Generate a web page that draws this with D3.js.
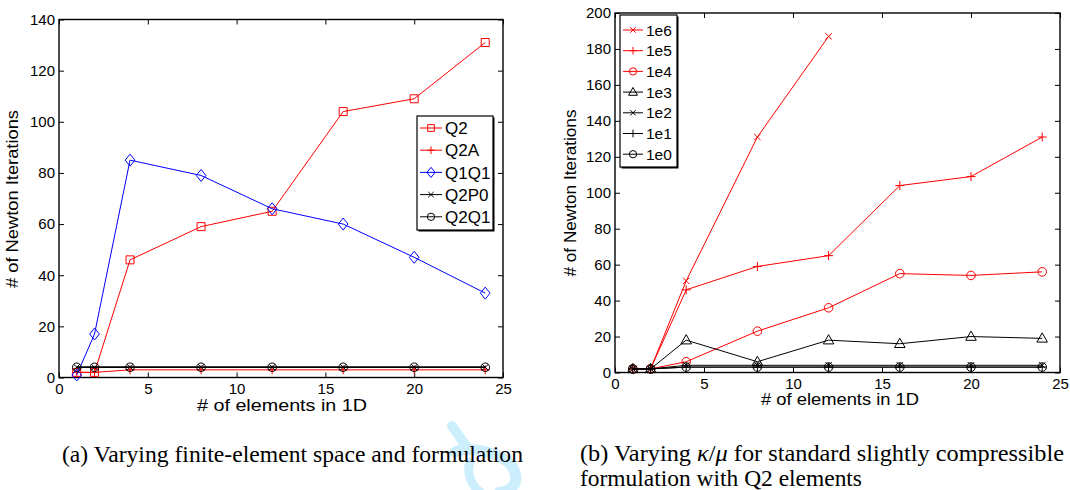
<!DOCTYPE html>
<html>
<head>
<meta charset="utf-8">
<script src="https://cdn.jsdelivr.net/npm/d3@7"></script>
<style>
  body { margin: 0; background: #fff; }
  text { font-family: "Liberation Sans", Arial, sans-serif; }
  .cap { font-family: "Liberation Serif", "Times New Roman", serif; font-size: 22.5px; }
</style>
</head>
<body>
<svg id="fig" width="1070" height="490"></svg>
<script>
// x values (elements in 1D)
const elems = [1, 2, 4, 8, 12, 16, 20, 24];

// panel (a): finite-element space / formulation
const q2   = [2, 2, 46, 59, 65, 104, 109, 131];
const q2a  = [2, 2, 3, 3, 3, 3, 3, 3];
const q1q1 = [1, 17, 85, 79, 66, 60, 47, 33];
const q2p0 = [4, 4, 4, 4, 4, 4, 4, 4];
const q2q1 = [4, 4, 4, 4, 4, 4, 4, 4];

// panel (b): kappa/mu
const k1e6 = [2, 2, 51, 131, 187];
const k1e5 = [2, 2, 46, 59, 65, 104, 109, 131];
const k1e4 = [2, 2, 6, 23, 36, 55, 54, 56];
const k1e3 = [2, 2, 18, 6, 18, 16, 20, 19];
const k1e2 = [2, 2, 4, 4, 4, 4, 4, 4];
const k1e1 = [2, 2, 3, 3, 3, 3, 3, 3];
const k1e0 = [2, 2, 3, 3, 3, 3, 3, 3];

const xTicks = [0, 5, 10, 15, 20, 25];
const yTicksA = [0, 20, 40, 60, 80, 100, 120, 140];
const yTicksB = [0, 20, 40, 60, 80, 100, 120, 140, 160, 180, 200];

const RED = "#ff0000", BLUE = "#0000ff", BLACK = "#000";

const seriesA = [
  { name: "Q2",   vals: q2,   color: RED,   mark: "square" },
  { name: "Q2A",  vals: q2a,  color: RED,   mark: "plus" },
  { name: "Q1Q1", vals: q1q1, color: BLUE,  mark: "diamond" },
  { name: "Q2P0", vals: q2p0, color: BLACK, mark: "x", width: 1.6 },
  { name: "Q2Q1", vals: q2q1, color: BLACK, mark: "circle", width: 1.6 }
];
const seriesB = [
  { name: "1e6", vals: k1e6, color: RED,   mark: "x" },
  { name: "1e5", vals: k1e5, color: RED,   mark: "plus" },
  { name: "1e4", vals: k1e4, color: RED,   mark: "circle" },
  { name: "1e3", vals: k1e3, color: BLACK, mark: "triangle" },
  { name: "1e2", vals: k1e2, color: BLACK, mark: "x" },
  { name: "1e1", vals: k1e1, color: BLACK, mark: "plus" },
  { name: "1e0", vals: k1e0, color: BLACK, mark: "circle" }
];

// marker outlines, matlab-ish
function markPath(type, s) {
  const p = d3.path();
  if (type === "square") { p.rect(-s, -s, 2 * s, 2 * s); }
  else if (type === "diamond") {
    p.moveTo(0, -s * 1.3); p.lineTo(s * 1.05, 0); p.lineTo(0, s * 1.3); p.lineTo(-s * 1.05, 0); p.closePath();
  }
  else if (type === "circle") { p.moveTo(s, 0); p.arc(0, 0, s, 0, 2 * Math.PI); }
  else if (type === "plus") { p.moveTo(-s, 0); p.lineTo(s, 0); p.moveTo(0, -s); p.lineTo(0, s); }
  else if (type === "x") { p.moveTo(-s * .7, -s * .7); p.lineTo(s * .7, s * .7); p.moveTo(-s * .7, s * .7); p.lineTo(s * .7, -s * .7); }
  else if (type === "triangle") {
    p.moveTo(0, -s * 1.1); p.lineTo(s * 1.05, s * 0.75); p.lineTo(-s * 1.05, s * 0.75); p.closePath();
  }
  return p.toString();
}
const markSize = { square: 4, diamond: 4.6, circle: 4.3, plus: 4.5, x: 4.5, triangle: 5 };

const svg = d3.select("#fig");
svg.append("rect").attr("width", 1070).attr("height", 490).attr("fill", "#fff");

// faint blue watermark behind the captions
const wm = svg.append("g").attr("fill", "none").attr("stroke", "#cdeefc").attr("stroke-linecap", "round");
wm.append("path").attr("d", "M452,426 L466,446").attr("stroke-width", 10);
wm.append("path").attr("d", "M455,452 C470,446 505,452 514,470 C520,484 510,492 500,492").attr("stroke-width", 11);
wm.append("path").attr("d", "M470,462 C466,474 472,486 480,492").attr("stroke-width", 9);

function panel(cfg) {
  const x = d3.scaleLinear().domain([0, 25]).range([cfg.left, cfg.right]);
  const y = d3.scaleLinear().domain([0, cfg.ymax]).range([cfg.bottom, cfg.top]);
  const g = svg.append("g");

  const styleAxis = sel => {
    sel.select(".domain").remove();
    sel.selectAll("line").attr("stroke", "#000").attr("stroke-width", 1);
    sel.selectAll("text").attr("font-size", 15).attr("fill", "#000")
      .attr("font-family", "'Liberation Sans', Arial, sans-serif");
  };

  g.append("g").attr("transform", `translate(0,${cfg.bottom})`)
    .call(d3.axisBottom(x).tickValues(xTicks).tickSize(-5).tickPadding(6)).call(styleAxis);
  g.append("g").attr("transform", `translate(0,${cfg.top})`)
    .call(d3.axisTop(x).tickValues(xTicks).tickSize(-5).tickFormat("")).call(styleAxis);
  g.append("g").attr("transform", `translate(${cfg.left},0)`)
    .call(d3.axisLeft(y).tickValues(cfg.yTicks).tickSize(-5).tickPadding(4)).call(styleAxis);
  g.append("g").attr("transform", `translate(${cfg.right},0)`)
    .call(d3.axisRight(y).tickValues(cfg.yTicks).tickSize(-5).tickFormat("")).call(styleAxis);

  g.append("rect")
    .attr("x", cfg.left).attr("y", cfg.top)
    .attr("width", cfg.right - cfg.left).attr("height", cfg.bottom - cfg.top)
    .attr("fill", "none").attr("stroke", "#000").attr("stroke-width", 1.4);

  const line = d3.line().x((d, i) => x(elems[i])).y(d => y(d));

  cfg.series.forEach(s => {
    const sg = g.append("g");
    sg.append("path").attr("d", line(s.vals))
      .attr("fill", "none").attr("stroke", s.color).attr("stroke-width", s.width || 1);
    sg.selectAll("path.m").data(s.vals).join("path").attr("class", "m")
      .attr("d", markPath(s.mark, markSize[s.mark]))
      .attr("transform", (d, i) => `translate(${x(elems[i])},${y(d)})`)
      .attr("fill", "none").attr("stroke", s.color).attr("stroke-width", 1);
  });

  // axis titles
  g.append("text").attr("x", cfg.xlab[0]).attr("y", cfg.xlab[1])
    .attr("text-anchor", "middle").attr("font-size", 17)
    .attr("textLength", cfg.xlab[2]).attr("lengthAdjust", "spacingAndGlyphs")
    .text("# of elements in 1D");
  g.append("text")
    .attr("transform", `translate(${cfg.ylab[0]},${cfg.ylab[1]}) rotate(-90)`)
    .attr("text-anchor", "middle").attr("font-size", 17)
    .attr("textLength", cfg.ylab[2]).attr("lengthAdjust", "spacingAndGlyphs")
    .text("# of Newton Iterations");

  // legend
  const L = cfg.legend;
  const lg = g.append("g");
  lg.append("rect").attr("x", L.x + 1.5).attr("y", L.y + 1.5).attr("width", L.w).attr("height", L.h)
    .attr("fill", "#000");
  lg.append("rect").attr("x", L.x).attr("y", L.y).attr("width", L.w).attr("height", L.h)
    .attr("fill", "#fff").attr("stroke", "#000").attr("stroke-width", 1.2);
  cfg.series.forEach((s, i) => {
    const yy = L.y0 + i * L.dy;
    lg.append("line").attr("x1", L.x + 3).attr("x2", L.x + 3 + L.len).attr("y1", yy).attr("y2", yy)
      .attr("stroke", s.color).attr("stroke-width", 1);
    lg.append("path").attr("d", markPath(s.mark, markSize[s.mark] * 0.85))
      .attr("transform", `translate(${L.x + 3 + L.len / 2},${yy})`)
      .attr("fill", "none").attr("stroke", s.color).attr("stroke-width", 1);
    lg.append("text").attr("x", L.x + 6 + L.len).attr("y", yy).attr("dy", "0.36em")
      .attr("font-size", L.fs).text(s.name);
  });
}

panel({
  left: 59, right: 503, top: 19.5, bottom: 377.5, ymax: 140, yTicks: yTicksA,
  series: seriesA,
  xlab: [282, 411, 170], ylab: [18, 199, 178],
  legend: { x: 417, y: 116, w: 76, h: 114, y0: 128, dy: 22.2, len: 22, fs: 17 }
});

panel({
  left: 615, right: 1060, top: 13, bottom: 372.5, ymax: 200, yTicks: yTicksB,
  series: seriesB,
  xlab: [840, 405, 158], ylab: [576, 193, 167],
  legend: { x: 620, y: 15, w: 57, h: 152, y0: 30, dy: 20.7, len: 20, fs: 15.5 }
});

// sub-figure captions
svg.append("text").attr("class", "cap").attr("x", 62).attr("y", 462)
  .attr("textLength", 461).attr("lengthAdjust", "spacingAndGlyphs")
  .text("(a) Varying finite-element space and formulation");
const capB = svg.append("text").attr("class", "cap").attr("x", 580).attr("y", 461)
  .attr("textLength", 484).attr("lengthAdjust", "spacingAndGlyphs");
capB.append("tspan").text("(b) Varying ");
capB.append("tspan").attr("font-style", "italic").text("κ");
capB.append("tspan").text("/");
capB.append("tspan").attr("font-style", "italic").text("μ");
capB.append("tspan").text(" for standard slightly compressible");
svg.append("text").attr("class", "cap").attr("x", 580).attr("y", 486)
  .attr("textLength", 282).attr("lengthAdjust", "spacingAndGlyphs")
  .text("formulation with Q2 elements");
</script>
</body>
</html>
